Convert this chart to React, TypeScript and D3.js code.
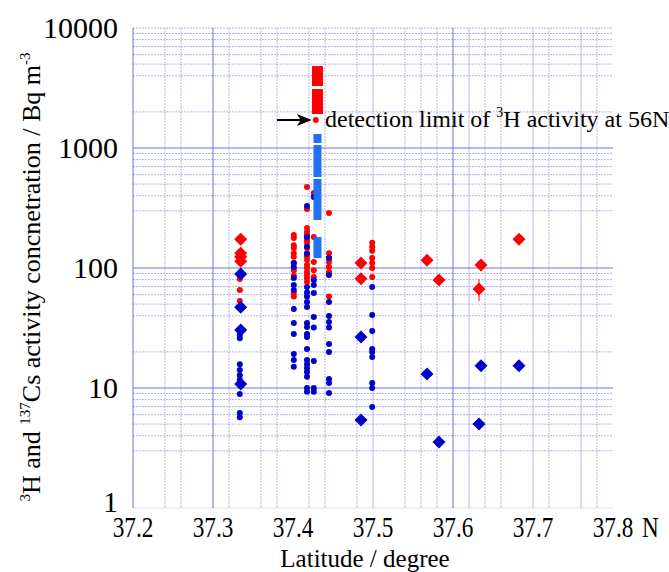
import React from 'react';
import * as d3 from 'd3';

// latitude of each sampling column (degree N)
const dotLats = [37.3335, 37.401, 37.4175, 37.426, 37.445, 37.499];

// 3H activity (red dots), one list per column, Bq m-3
const h3Dots = [
  [81, 65.6, 53],
  [188, 178, 155, 147, 133, 124, 110, 96, 86, 62, 58],
  [473, 310, 215, 200, 188, 171, 162, 147, 133, 124, 117, 106, 100, 92.6, 87.5, 82.5, 76.4],
  [422, 181, 112, 96, 84],
  [287, 133, 121, 112, 102, 92.6, 58],
  [162, 150, 139, 121, 110, 100, 84],
];

// 137Cs activity (blue dots), one list per column, Bq m-3
const csDots = [
  [27.6, 26, 15.8, 14.1, 12.8, 11.7, 8.9, 6.2, 5.7],
  [110, 102, 82.5, 72, 65.6, 45.5, 34.8, 28.2, 19.2, 17.1, 15],
  [329, 181, 150, 131, 69.5, 62.5, 58, 52, 47.3, 34.8, 32.2, 28.2, 26.6, 21.1, 17.1, 15.8, 14.7, 13.6, 12.4, 10, 9.3],
  [390, 79.4, 72, 62, 39, 32, 16.8, 10, 9.3],
  [121, 87.5, 52, 39.8, 35.5, 32, 23.3, 20, 11.9, 11, 9.1],
  [69.5, 40.5, 29.9, 21.1, 20, 18.1, 11, 10, 6.95],
];

// diamonds
const h3DiaLat = [37.3346, 37.3346, 37.3346, 37.3346, 37.485, 37.485, 37.5675, 37.5825, 37.635, 37.6325, 37.6825];
const h3DiaVal = [174, 133, 124, 114, 110, 81.5, 116, 79.4, 106, 66.8, 174];
const h3DiaErr = [0, 0, 0, 0, 6, 5, 12, 4, 12, 14, 0];
const csDiaLat = [37.3346, 37.3346, 37.3346, 37.3346, 37.485, 37.485, 37.5675, 37.5825, 37.635, 37.6325, 37.6825];
const csDiaVal = [89, 47, 30.4, 10.8, 26.6, 5.4, 13.1, 3.55, 15.3, 5.0, 15.3];

// stacked high-value ranges near 37.43 N
const barLat = 37.4306;
const h3Bars = [[3286, 4820], [1920, 3100]];
const csBars = [[1101, 1309], [573, 1059], [251, 552], [121, 181]];
const detectionLimit = 1711;

const xTicks = [37.2, 37.3, 37.4, 37.5, 37.6, 37.7, 37.8];
const yTicks = [1, 10, 100, 1000, 10000];

// vertical grid lines by style
const vDark = [37.2, 37.3, 37.6];
const vLight = [37.5, 37.62, 37.7, 37.76];
const vDash = [37.24, 37.26, 37.32, 37.36, 37.38, 37.42, 37.44, 37.48, 37.54, 37.56, 37.58, 37.64, 37.66, 37.72, 37.78];
// horizontal grid lines
const hMajor = [10, 100, 1000];
const hMinor = [3, 4, 5, 6, 7, 8, 9, 20, 40, 50, 60, 70, 80, 90, 300, 400, 500, 600, 700, 800, 900, 2000, 4000, 5000, 6000, 7000, 8000, 9000, 10000];

const RED = '#ff0000';
const BLUE = '#0000c8';
const BAR = '#2170f8';
const GRID = '#5555dd';
const FONT = "'Liberation Serif', 'DejaVu Serif', 'Times New Roman', Times, serif";

const App = () => {
  const width = 669;
  const height = 572;
  const x = d3.scaleLinear().domain([37.2, 37.8]).range([133, 613]);
  const y = d3.scaleLog().domain([1, 10000]).range([508, 28]);
  const [x0, x1] = x.range();
  const [y0, y1] = y.range();

  const diamond = (cx, cy, r) => `M${cx},${cy - r}L${cx + r},${cy}L${cx},${cy + r}L${cx - r},${cy}Z`;
  const dlX = x(37.4285);
  const dlY = y(detectionLimit);

  return (
    <svg width={width} height={height} style={{ position: 'absolute', left: 0, top: 0, background: '#fff', fontFamily: FONT }}>
      <g>
        {vDash.map((d, i) => (
          <line key={`vd-${i}`} x1={x(d)} x2={x(d)} y1={y1} y2={y0} stroke={GRID} strokeOpacity={0.45} strokeDasharray='2,1' />
        ))}
        {vLight.map((d, i) => (
          <line key={`vl-${i}`} x1={x(d)} x2={x(d)} y1={y1} y2={y0} stroke={GRID} strokeOpacity={0.4} />
        ))}
        {vDark.map((d, i) => (
          <line key={`vk-${i}`} x1={x(d)} x2={x(d)} y1={y1} y2={y0} stroke={GRID} strokeOpacity={0.85} />
        ))}
        {hMinor.map((d, i) => (
          <line key={`hm-${i}`} x1={x0} x2={x1} y1={y(d)} y2={y(d)} stroke={GRID} strokeOpacity={0.45} strokeDasharray='2,1' />
        ))}
        {hMajor.map((d, i) => (
          <line key={`hM-${i}`} x1={x0} x2={x1} y1={y(d)} y2={y(d)} stroke={GRID} strokeOpacity={0.85} />
        ))}
        <line x1={x0} x2={x1} y1={y(1)} y2={y(1)} stroke={GRID} strokeOpacity={0.2} />
      </g>

      {h3Dots.map((col, i) =>
        col.map((v, j) => <circle key={`h3-${i}-${j}`} cx={x(dotLats[i])} cy={y(v)} r={3} fill={RED} />)
      )}
      {h3DiaLat.map((lat, i) => (
        <g key={`h3d-${i}`}>
          {h3DiaErr[i] > 0 && (
            <line x1={x(lat)} x2={x(lat)} y1={y(h3DiaVal[i] + h3DiaErr[i])} y2={y(h3DiaVal[i] - h3DiaErr[i])} stroke={RED} strokeWidth={1} />
          )}
          <path d={diamond(x(lat), y(h3DiaVal[i]), 6.5)} fill={RED} />
        </g>
      ))}
      {csDots.map((col, i) =>
        col.map((v, j) => <circle key={`cs-${i}-${j}`} cx={x(dotLats[i])} cy={y(v)} r={3} fill={BLUE} />)
      )}
      {csDiaLat.map((lat, i) => (
        <path key={`csd-${i}`} d={diamond(x(lat), y(csDiaVal[i]), 6.5)} fill={BLUE} />
      ))}

      {h3Bars.map((d, i) => (
        <rect key={`hb-${i}`} x={x(barLat) - 5.5} width={11} y={y(d[1])} height={y(d[0]) - y(d[1])} fill={RED} />
      ))}
      {csBars.map((d, i) => (
        <rect key={`cb-${i}`} x={x(barLat) - 4} width={8} y={y(d[1])} height={y(d[0]) - y(d[1])} fill={BAR} />
      ))}
      <circle cx={dlX} cy={dlY} r={3} fill={RED} />

      <line x1={277} x2={dlX - 8} y1={dlY} y2={dlY} stroke='#000' strokeWidth={2} />
      <path d={`M${dlX - 4},${dlY} l-15,-6 l4,6 l-4,6 Z`} fill='#000' />

      <text x={325} y={dlY + 7} fontSize={24} fill='#000'>
        detection limit of <tspan dy={-10} fontSize={14}>3</tspan>
        <tspan dy={10}>H activity at 56N</tspan>
      </text>

      {yTicks.map((t, i) => (
        <text key={`yt-${i}`} x={118} y={y(t) + (t === 1 ? 4 : 10)} fontSize={30} textAnchor='end' fill='#000'>
          {t}
        </text>
      ))}
      {xTicks.map((t, i) => (
        <text
          key={`xt-${i}`}
          transform={`translate(${x(t)}, 537) scale(0.8, 1)`}
          fontSize={29}
          textAnchor='middle'
          fill='#000'
        >
          {t.toFixed(1)}
        </text>
      ))}
      <text transform='translate(642, 537) scale(0.8, 1)' fontSize={29} fill='#000'>N</text>
      <text x={365} y={567} fontSize={25} textAnchor='middle' fill='#000'>Latitude / degree</text>

      <text transform='translate(40, 277) rotate(-90)' fontSize={26} textAnchor='middle' fill='#000'>
        <tspan dy={-10} fontSize={15}>3</tspan>
        <tspan dy={10}>H and </tspan>
        <tspan dy={-10} fontSize={15}>137</tspan>
        <tspan dy={10}>Cs activity concnetration / Bq m</tspan>
        <tspan dy={-10} fontSize={15}>-3</tspan>
      </text>
    </svg>
  );
};

export default App;
